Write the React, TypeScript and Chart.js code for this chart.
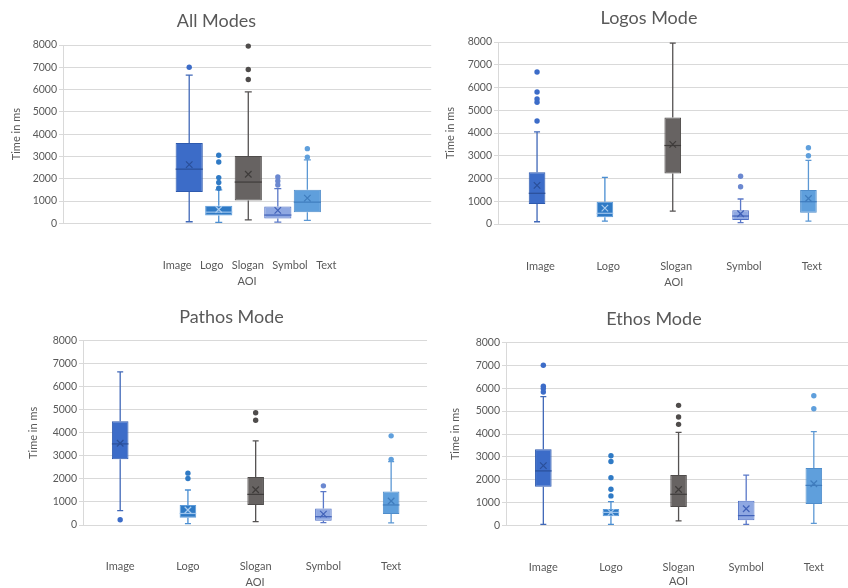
import { useEffect, useRef } from 'react';
import { Chart, registerables } from 'chart.js';

Chart.register(...registerables);

// ---------- data ----------
const categories = ['Image', 'Logo', 'Slogan', 'Symbol', 'Text'];
const yAxisLabel = 'Time in ms';
const xAxisLabel = 'AOI';

// All Modes
const allMin = [70, 45, 150, 50, 130];
const allQ1 = [1400, 350, 1020, 220, 500];
const allMedian = [2430, 500, 1850, 370, 950];
const allQ3 = [3600, 790, 3020, 750, 1500];
const allMax = [6650, 1500, 5900, 1560, 2850];
const allMean = [2630, 620, 2200, 580, 1130];
const allOutliers = [[7000], [3050, 2750, 2050, 1830, 1570], [7950, 6900, 6450], [2080, 1900, 1720], [3350, 2970]];

// Logos Mode
const logosMin = [100, 130, 570, 60, 130];
const logosQ1 = [880, 300, 2220, 180, 500];
const logosMedian = [1350, 470, 3450, 350, 980];
const logosQ3 = [2270, 980, 4680, 600, 1500];
const logosMax = [4050, 2050, 7950, 1100, 2800];
const logosMean = [1700, 700, 3500, 450, 1120];
const logosOutliers = [[6680, 5800, 5500, 5350, 4530], [], [], [2100, 1640], [3350, 3000]];

// Pathos Mode
const pathosMin = [620, 60, 145, 100, 90];
const pathosQ1 = [2850, 320, 870, 180, 480];
const pathosMedian = [3520, 500, 1330, 360, 870];
const pathosQ3 = [4500, 870, 2080, 720, 1450];
const pathosMax = [6650, 1520, 3650, 1450, 2750];
const pathosMean = [3550, 650, 1530, 470, 1040];
const pathosOutliers = [[230], [2250, 2020], [4870, 4550], [1700], [3870, 2850]];

// Ethos Mode
const ethosMin = [60, 60, 210, 60, 100];
const ethosQ1 = [1700, 410, 820, 240, 950];
const ethosMedian = [2390, 580, 1370, 440, 1760];
const ethosQ3 = [3330, 730, 2210, 1090, 2520];
const ethosMax = [5630, 1050, 4070, 2210, 4100];
const ethosMean = [2620, 580, 1580, 740, 1830];
const ethosOutliers = [[7000, 6080, 5980, 5830], [3050, 2800, 2090, 1590, 1300], [5250, 4740, 4420], [], [5670, 5100]];

// ---------- styles ----------
const FONT = 'Lato, "Open Sans", "DejaVu Sans", sans-serif';
const TEXT = '#595959';
const GRID = '#D9D9D9';
const boxFill = ['#3C6CC8', '#2F7AC5', '#676362', '#8FA8E2', '#5F9FDC'];
const boxBorder = ['#2E5AAE', '#5C9BDA', '#4F4C4B', '#4E6FC4', '#4F8DCB'];
const whiskerColor = ['#4068B8', '#4A8ED2', '#555252', '#5A78C8', '#5C98D4'];
const medianColor = ['#2A4F99', '#9CC3EC', '#3F3C3B', '#4061B8', '#3F7CBD'];
const meanColor = ['#2A4F99', '#A8CBEF', '#3F3C3B', '#4061B8', '#3F7CBD'];
const dotColor = ['#3C6CC8', '#2F7AC5', '#4F4C4B', '#6B88D0', '#5F9FDC'];

type Panel = {
  title: string;
  min: number[]; q1: number[]; median: number[]; q3: number[]; max: number[]; mean: number[]; outliers: number[][];
  left: number; top: number; width: number; height: number;
  xMin: number; xMax: number; barPct: number; capW: number;
  joinLabels: boolean; labelCenter: number; labelStep: number;
  yAxisWidth: number; yTitlePad: number; titlePadTop: number; titlePadBottom: number;
  xAxisHeight: number; tickPad: number; aoiPad: number;
};

const panels: Panel[] = [
  {
    title: 'All Modes', min: allMin, q1: allQ1, median: allMedian, q3: allQ3, max: allMax, mean: allMean, outliers: allOutliers,
    left: -4, top: 0, width: 441, height: 292,
    xMin: -3.273, xMax: 9.193, barPct: 0.92, capW: 7,
    joinLabels: true, labelCenter: 3.044, labelStep: 1,
    yAxisWidth: 67, yTitlePad: 13.4, titlePadTop: 9.9, titlePadBottom: 13.5,
    xAxisHeight: 68.7, tickPad: 35.4, aoiPad: 4.4,
  },
  {
    title: 'Logos Mode', min: logosMin, q1: logosQ1, median: logosMedian, q3: logosQ3, max: logosMax, mean: logosMean, outliers: logosOutliers,
    left: 440, top: 0, width: 418, height: 292,
    xMin: 0.4245, xMax: 5.604, barPct: 0.245, capW: 6,
    joinLabels: false, labelCenter: 3.05, labelStep: 1,
    yAxisWidth: 58, yTitlePad: 3.4, titlePadTop: 7.5, titlePadBottom: 12.9,
    xAxisHeight: 68, tickPad: 35.4, aoiPad: 3.4,
  },
  {
    title: 'Pathos Mode', min: pathosMin, q1: pathosQ1, median: pathosMedian, q3: pathosQ3, max: pathosMax, mean: pathosMean, outliers: pathosOutliers,
    left: 26, top: 295, width: 411, height: 295,
    xMin: 0.451, xMax: 5.53, barPct: 0.245, capW: 6,
    joinLabels: false, labelCenter: 3, labelStep: 1,
    yAxisWidth: 57, yTitlePad: 0.4, titlePadTop: 10.9, titlePadBottom: 13.2,
    xAxisHeight: 65, tickPad: 35.1, aoiPad: 1.1,
  },
  {
    title: 'Ethos Mode', min: ethosMin, q1: ethosQ1, median: ethosMedian, q3: ethosQ3, max: ethosMax, mean: ethosMean, outliers: ethosOutliers,
    left: 448, top: 295, width: 412, height: 295,
    xMin: 0.448, xMax: 5.552, barPct: 0.245, capW: 6,
    joinLabels: false, labelCenter: 3, labelStep: 1,
    yAxisWidth: 58, yTitlePad: 1.1, titlePadTop: 13.2, titlePadBottom: 12.5,
    xAxisHeight: 64.3, tickPad: 35.4, aoiPad: 1.7,
  },
];

function makeBoxPlugin(p: Panel) {
  return {
    id: 'boxWhiskers',
    beforeDatasetsDraw(chart: any) {
      const { ctx } = chart;
      const x = chart.scales.x;
      const y = chart.scales.y;
      ctx.save();
      categories.forEach((_, i) => {
        const px = x.getPixelForValue(i + 1);
        const yMin = y.getPixelForValue(p.min[i]);
        const yMax = y.getPixelForValue(p.max[i]);
        const yQ1 = y.getPixelForValue(p.q1[i]);
        const yQ3 = y.getPixelForValue(p.q3[i]);
        ctx.strokeStyle = whiskerColor[i];
        ctx.lineWidth = 1.3;
        ctx.beginPath();
        ctx.moveTo(px, yQ3); ctx.lineTo(px, yMax);
        ctx.moveTo(px, yQ1); ctx.lineTo(px, yMin);
        ctx.moveTo(px - p.capW / 2, yMax); ctx.lineTo(px + p.capW / 2, yMax);
        ctx.moveTo(px - p.capW / 2, yMin); ctx.lineTo(px + p.capW / 2, yMin);
        ctx.stroke();
      });
      ctx.restore();
    },
    afterDatasetDraw(chart: any, args: any) {
      if (args.index !== 0) return;
      const { ctx } = chart;
      const y = chart.scales.y;
      const bars = chart.getDatasetMeta(0).data;
      ctx.save();
      categories.forEach((_, i) => {
        const bar = bars[i];
        const py = y.getPixelForValue(p.median[i]);
        ctx.strokeStyle = medianColor[i];
        ctx.lineWidth = 1.2;
        ctx.beginPath();
        ctx.moveTo(bar.x - bar.width / 2, py);
        ctx.lineTo(bar.x + bar.width / 2, py);
        ctx.stroke();
      });
      ctx.restore();
    },
  };
}

function BoxPanel({ p }: { p: Panel }) {
  const ref = useRef<HTMLCanvasElement>(null);
  useEffect(() => {
    const canvas = ref.current;
    if (!canvas) return;
    const positions = categories.map((_, i) => i + 1);
    const tickLabels = p.joinLabels ? [categories.join('   ')] : categories;
    const datasets: any[] = [
      {
        type: 'bar',
        label: 'box',
        data: positions.map((xv, i) => ({ x: xv, y: [p.q1[i], p.q3[i]] })),
        backgroundColor: boxFill,
        borderColor: boxBorder,
        borderWidth: 1,
        borderSkipped: false,
        barPercentage: p.barPct,
        categoryPercentage: 1,
        order: 3,
      },
      {
        type: 'scatter',
        label: 'mean',
        data: positions.map((xv, i) => ({ x: xv, y: p.mean[i] })),
        pointStyle: 'crossRot',
        pointRadius: 4.6,
        pointBorderColor: meanColor,
        pointBorderWidth: 1.2,
        pointBackgroundColor: 'transparent',
        order: 1,
      },
      ...categories.map((c, i) => ({
        type: 'scatter',
        label: c + ' outliers',
        data: p.outliers[i].map((v) => ({ x: i + 1, y: v })),
        pointStyle: 'circle',
        pointRadius: 2.7,
        pointBackgroundColor: dotColor[i],
        pointBorderColor: dotColor[i],
        pointBorderWidth: 0,
        order: 1,
        clip: false,
      })),
    ];
    const chart = new Chart(canvas, {
      type: 'bar',
      data: { datasets },
      plugins: [makeBoxPlugin(p)],
      options: {
        responsive: false,
        animation: false,
        layout: { padding: 0 },
        plugins: {
          legend: { display: false },
          tooltip: { enabled: false },
          title: {
            display: true,
            text: p.title,
            color: TEXT,
            font: { family: FONT, size: 18, weight: 'normal', lineHeight: 1.2 },
            padding: { top: p.titlePadTop, bottom: p.titlePadBottom },
          },
        },
        scales: {
          x: {
            type: 'linear',
            min: p.xMin,
            max: p.xMax,
            offset: false,
            grid: { display: false, drawTicks: false, offset: false },
            border: { display: false },
            afterBuildTicks: (s: any) => {
              s.ticks = tickLabels.map((_, i) => ({
                value: p.labelCenter + (i - (tickLabels.length - 1) / 2) * p.labelStep,
              }));
            },
            ticks: {
              autoSkip: false,
              maxRotation: 0,
              minRotation: 0,
              padding: p.tickPad,
              color: TEXT,
              font: { family: FONT, size: 11 },
              callback: (_v: any, index: number) => tickLabels[index] ?? '',
            },
            title: {
              display: true,
              text: xAxisLabel,
              color: TEXT,
              font: { family: FONT, size: 11, lineHeight: 1.2 },
              padding: { top: 0, bottom: p.aoiPad },
            },
            afterFit: (s: any) => { s.height = p.xAxisHeight; },
          },
          y: {
            type: 'linear',
            min: 0,
            max: 8000,
            ticks: {
              stepSize: 1000,
              padding: 2,
              color: TEXT,
              font: { family: FONT, size: 10.5 },
              callback: (v: any) => String(v),
            },
            grid: { color: GRID, lineWidth: 1, tickLength: 4, drawTicks: true },
            border: { display: true, color: GRID },
            title: {
              display: true,
              text: yAxisLabel,
              color: TEXT,
              font: { family: FONT, size: 11, lineHeight: 1.2 },
              padding: { top: p.yTitlePad, bottom: 0 },
            },
            afterFit: (s: any) => { s.width = p.yAxisWidth; },
          },
        },
      } as any,
    });
    return () => chart.destroy();
  }, [p]);
  return (
    <canvas
      ref={ref}
      width={p.width}
      height={p.height}
      style={{ position: 'absolute', left: p.left, top: p.top, width: p.width, height: p.height }}
    />
  );
}

export default function App() {
  return (
    <div style={{ position: 'fixed', left: 0, top: 0, width: 848, height: 588, overflow: 'hidden', background: '#fff' }}>
      {panels.map((p) => (
        <BoxPanel key={p.title} p={p} />
      ))}
    </div>
  );
}
